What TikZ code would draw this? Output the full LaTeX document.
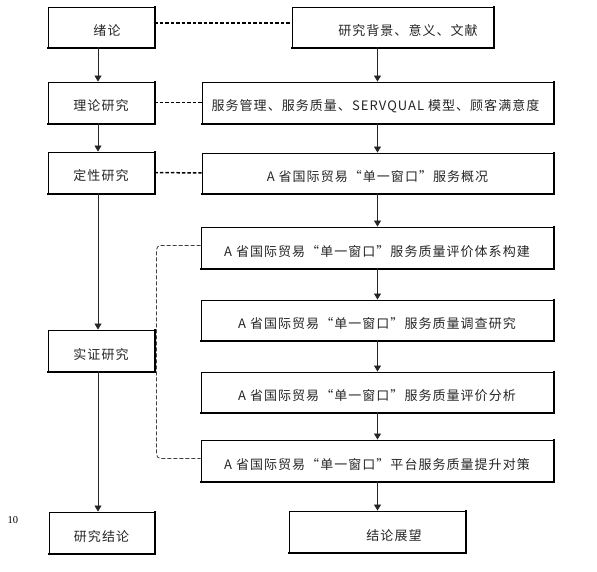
\documentclass[tikz,border=0pt]{standalone}
\usepackage{fontspec}
\setmainfont{Noto Sans CJK SC}[LetterSpace=8]
\newfontfamily\numfont{Liberation Serif}
\usetikzlibrary{arrows.meta,calc}
\begin{document}
\begin{tikzpicture}[x=1pt,y=-1pt,
  box/.style={draw, line width=0.9pt, fill=white, inner sep=0pt,
    text height=19pt, text depth=2pt, text=black!85,
    font=\fontsize{13}{15}\selectfont},
  shade/.style={draw=black, line width=1.6pt},
  arr/.style={draw=black!85, line width=0.8pt, -{Triangle[width=7pt,length=6pt]}},
  dsh/.style={draw=black, line width=1.5pt, dash pattern=on 3.5pt off 2pt},
  bracket/.style={draw=black!75, line width=0.8pt, dash pattern=on 4pt off 2pt, rounded corners=4pt}]
\useasboundingbox (0,0) rectangle (597,572);
\coordinate (lx) at (98,0);
\coordinate (rx) at (377.5,0);
\coordinate (d1) at (0,23);

\node[box, minimum width=106pt, minimum height=40pt] (b1) at (101,27) {\hspace*{12pt}绪论};
\node[box, minimum width=201pt, minimum height=40pt] (b2) at (392.5,27) {\hspace*{31pt}研究背景、意义、文献};
\node[box, minimum width=106pt, minimum height=41pt] (b3) at (101,102.5) {理论研究};
\node[box, minimum width=351pt, minimum height=41pt] (b4) at (377.5,102.5) {服务管理、服务质量、SERVQUAL 模型、顾客满意度\hspace*{4pt}};
\node[box, minimum width=106pt, minimum height=41pt] (b5) at (101,172.5) {定性研究};
\node[box, minimum width=351pt, minimum height=40pt] (b6) at (377.5,173) {A 省国际贸易“单一窗口”服务概况};
\node[box, minimum width=352pt, minimum height=41pt] (b7) at (377,247.5) {A 省国际贸易“单一窗口”服务质量评价体系构建};
\node[box, minimum width=352pt, minimum height=40pt] (b8) at (377,320) {A 省国际贸易“单一窗口”服务质量调查研究};
\node[box, minimum width=352pt, minimum height=40pt] (b9) at (377,392) {A 省国际贸易“单一窗口”服务质量评价分析};
\node[box, minimum width=352pt, minimum height=41pt] (b10) at (377,460.5) {A 省国际贸易“单一窗口”平台服务质量提升对策};
\node[box, minimum width=106pt, minimum height=41pt] (b11) at (101,350.5) {实证研究};
\node[box, minimum width=105pt, minimum height=41pt] (b12) at (101.5,532.5) {研究结论};
\node[box, minimum width=176pt, minimum height=41pt] (b13) at (377,531.5) {\hspace*{34pt}结论展望};
\node[font=\numfont\fontsize{10.5}{12}\selectfont, inner sep=0pt] (pg) at (13,520) {10};

% heavier right and bottom borders
\foreach \n in {b1,b2,b3,b4,b5,b6,b7,b8,b9,b10,b11,b12,b13}{
  \draw[shade] ([shift={(0.4pt,0.4pt)}]\n.north east) -- ([shift={(0.4pt,-0.4pt)}]\n.south east) -- ([shift={(-0.4pt,-0.4pt)}]\n.south west);
}

% left column arrows
\draw[arr] (b1.south -| lx) -- (b3.north -| lx);
\draw[arr] (b3.south -| lx) -- (b5.north -| lx);
\draw[arr] (b5.south -| lx) -- (b11.north -| lx);
\draw[arr] (b11.south -| lx) -- (b12.north -| lx);
% right column arrows
\draw[arr] (b2.south -| rx) -- (b4.north -| rx);
\draw[arr] (b4.south -| rx) -- (b6.north -| rx);
\draw[arr] (b6.south -| rx) -- (b7.north -| rx);
\draw[arr] (b7.south -| rx) -- (b8.north -| rx);
\draw[arr] (b8.south -| rx) -- (b9.north -| rx);
\draw[arr] (b9.south -| rx) -- (b10.north -| rx);
\draw[arr] (b10.south -| rx) -- (b13.north -| rx);
% dashed links
\draw[dsh] (b1.east |- d1) -- (b2.west |- d1);
\draw[dsh] (b3.east) -- (b4.west);
\draw[dsh] (b5.east) -- (b6.west);
\draw[bracket] ([yshift=2pt]b7.west) -- ++(-44,0) |- ([yshift=2pt]b10.west);
\end{tikzpicture}
\end{document}
